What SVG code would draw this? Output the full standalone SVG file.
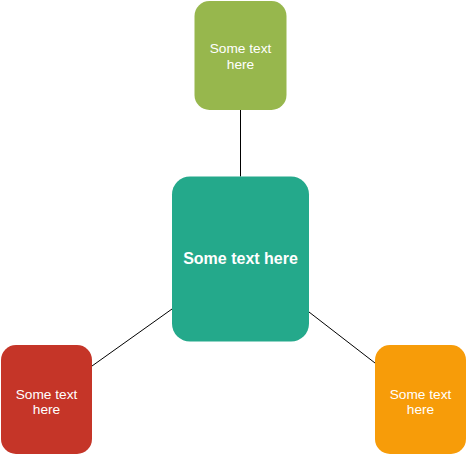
<svg xmlns="http://www.w3.org/2000/svg" width="467" height="456" viewBox="0 0 467 456">
<style>
.t{font-family:"Liberation Sans",Arial,sans-serif;font-size:13.7px;fill:#ffffff;text-anchor:middle}
.b{font-family:"Liberation Sans",Arial,sans-serif;font-size:16px;font-weight:bold;fill:#ffffff;text-anchor:middle}
.c{stroke:#000000;stroke-width:1;fill:none}
</style>
<rect width="467" height="456" fill="#ffffff"/>
<g id="connectors">
<line class="c" x1="240.5" y1="110" x2="240.5" y2="176.5"/>
<line class="c" x1="172" y1="309" x2="92" y2="366"/>
<line class="c" x1="309" y1="312" x2="375" y2="363"/>
</g>
<g id="node-top">
<rect x="194.5" y="1" width="92" height="109" rx="15" ry="15" fill="#97B74D"/>
<text class="t" x="240.5" y="53">Some text</text>
<text class="t" x="240.5" y="69">here</text>
</g>
<g id="node-center">
<rect x="172" y="176.5" width="137" height="165" rx="18" ry="18" fill="#24A98B"/>
<text class="b" x="240.5" y="264">Some text here</text>
</g>
<g id="node-left">
<rect x="1" y="345" width="91" height="109" rx="15" ry="15" fill="#C53528"/>
<text class="t" x="46.5" y="398.5">Some text</text>
<text class="t" x="46.5" y="414">here</text>
</g>
<g id="node-right">
<rect x="375" y="345" width="91" height="109" rx="15" ry="15" fill="#F79C09"/>
<text class="t" x="420.5" y="398.5">Some text</text>
<text class="t" x="420.5" y="414">here</text>
</g>
</svg>
